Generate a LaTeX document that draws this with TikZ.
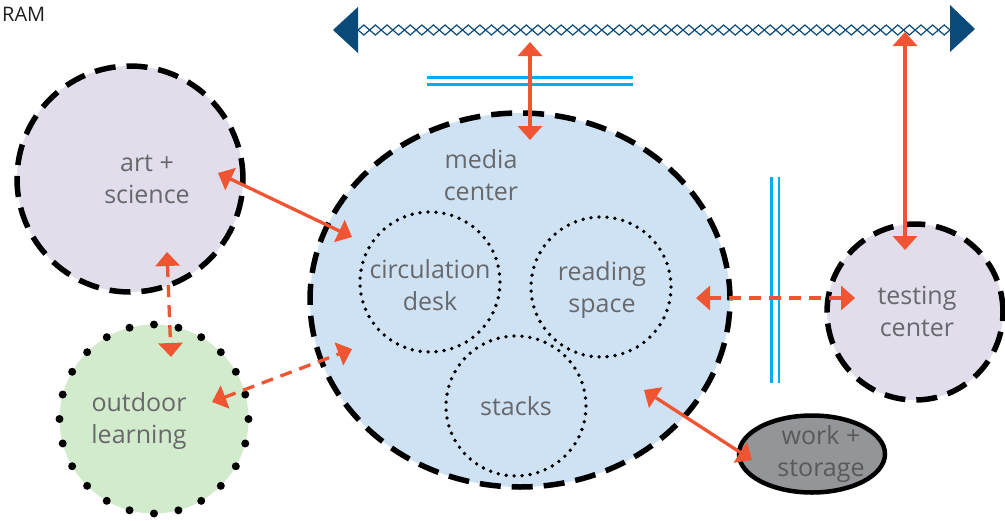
\documentclass[tikz,border=0pt]{standalone}
\usepackage{fontspec}
\setmainfont{Open Sans}
\usetikzlibrary{arrows.meta,shapes.geometric}
\definecolor{linkred}{HTML}{EF5533}
\definecolor{barblue}{HTML}{0A4A7A}
\definecolor{wallblue}{HTML}{00AEEF}
\definecolor{lavender}{HTML}{E1DDEB}
\definecolor{mediablue}{HTML}{CFE2F3}
\definecolor{mint}{HTML}{D3EBCD}
\definecolor{storegray}{HTML}{939598}
\definecolor{textgray}{HTML}{67686B}
\definecolor{darktext}{HTML}{58595B}
\begin{document}
\begin{tikzpicture}[x=1pt,y=-1pt,
  room/.style={draw=black, line width=5.5pt, dash pattern=on 21pt off 11pt, inner sep=0pt},
  zone/.style={circle, draw=black, line width=3.8pt, dash pattern=on 0pt off 8pt,
    line cap=round, minimum size=140pt, inner sep=0pt},
  caption/.style={text=textgray, font=\fontsize{25}{32}\selectfont, align=center},
  wall/.style={draw=wallblue, line width=2.7pt},
  link/.style={draw=linkred, line width=3.3pt,
    {Triangle[length=14pt,width=24pt]}-{Triangle[length=14pt,width=24pt]}},
  linkdash/.style={link, dash pattern=on 12pt off 8pt}]
\useasboundingbox (0,0) rectangle (1005,520);

% heading
\node[anchor=west, font=\fontsize{20}{22}\selectfont, text=black!88, inner sep=0pt] (title) at (2,14) {RAM};

% shared corridor bar
\fill[barblue] (333,30) -- (358,7) -- (358,53) -- cycle;
\fill[barblue] (975,29) -- (950,5) -- (950,52) -- cycle;
\foreach \i in {0,...,50} {
  \draw[barblue, line width=1.2pt] ({358+\i*11.608},30) -- ++(5.804,-5) -- ++(5.804,5) -- ++(-5.804,5) -- cycle;
}
\coordinate (barA) at (530,42);
\coordinate (barB) at (905,32);

% walls
\draw[wall] (427,77.3) -- (633,77.3);
\draw[wall] (427,84.3) -- (633,84.3);
\draw[wall] (771.7,177) -- (771.7,383);
\draw[wall] (779,177) -- (779,383);

% rooms
\node[room, ellipse, fill=mediablue, minimum width=420pt, minimum height=374pt] (media) at (520,300) {};
\node[room, circle, fill=lavender, minimum size=226pt] (art) at (130,179) {};
\node[room, circle, fill=lavender, minimum size=176pt] (testing) at (915,312) {};
\pgfmathsetmacro{\dotgap}{2*pi*94.5/24}
\node[circle, fill=mint, draw=black, line width=8pt, line cap=round,
  dash pattern=on 0pt off \dotgap pt, minimum size=189pt, inner sep=0pt] (outdoor) at (154,419) {};
\node[ellipse, fill=storegray, draw=black, line width=4.5pt, minimum width=146pt, minimum height=77pt, inner sep=0pt] (work) at (812,454) {};

% zones inside the media center
\node[zone] (circ) at (430,282) {};
\node[zone] (read) at (601,287) {};
\node[zone] (stacks) at (516,406) {};

% captions
\node[caption] (mediaT) at (481,175) {media\\center};
\node[caption] (circT) at (430,285) {circulation\\desk};
\node[caption] (readT) at (602,290) {reading\\space};
\node[caption] (stacksT) at (516,406) {stacks};
\node[caption] (artT) at (147,179) {art +\\science};
\node[caption] (outT) at (139,421) {outdoor\\learning};
\node[caption] (testT) at (917,311) {testing\\center};
\node[caption, text=darktext] (workT) at (821,454) {work +\\storage};

% link end points
\coordinate (artE) at (218,173);
\coordinate (mediaW) at (352,237);
\coordinate (artS) at (167,252);
\coordinate (outN) at (171,357);
\coordinate (outE) at (212,402);
\coordinate (mediaSW) at (352,349);
\coordinate (mediaE) at (696,298);
\coordinate (testW) at (855,298);
\coordinate (mediaSE) at (644,390);
\coordinate (workW) at (752,460);
\coordinate (mediaN) at (530,140);
\coordinate (testN) at (905,250);

% links
\draw[link] (artE) -- (mediaW);
\draw[linkdash] (artS) -- (outN);
\draw[linkdash] (outE) -- (mediaSW);
\draw[linkdash] (mediaE) -- (testW);
\draw[link] (mediaSE) -- (workW);
\draw[link] (barA) -- (mediaN);
\draw[link] (barB) -- (testN);
\end{tikzpicture}
\end{document}
